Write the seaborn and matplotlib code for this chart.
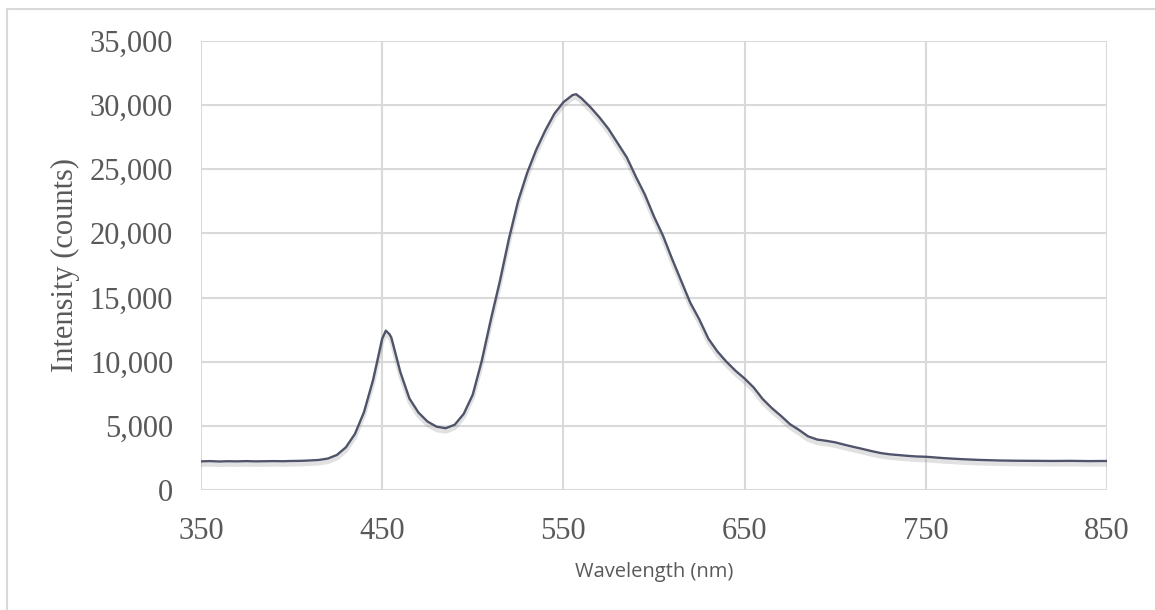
import matplotlib
matplotlib.use("Agg")
import matplotlib.pyplot as plt
import matplotlib.patheffects as pe
from matplotlib.ticker import FuncFormatter
import seaborn as sns
import pandas as pd

wavelength = [350, 355, 360, 365, 370, 375, 380, 385, 390, 395, 400, 405, 410, 415, 420,
              425, 430, 435, 440, 445, 448, 450, 452, 454, 455, 460, 465, 470, 475, 480,
              485, 490, 495, 500, 505, 510, 515, 520, 525, 530, 535, 540, 545, 550, 555,
              557, 560, 565, 570, 575, 580, 585, 590, 595, 600, 605, 610, 615, 620, 625,
              630, 635, 640, 645, 650, 655, 660, 665, 670, 675, 680, 685, 690, 695, 700,
              705, 710, 715, 720, 725, 730, 735, 740, 745, 750, 760, 770, 780, 790, 800,
              810, 820, 830, 840, 850]
intensity = [2250, 2270, 2240, 2260, 2250, 2270, 2250, 2260, 2270, 2260, 2280, 2290, 2320, 2360, 2470,
             2750, 3350, 4400, 6100, 8600, 10500, 11800, 12420, 12150, 11900, 9200, 7150, 6050, 5350, 4950,
             4830, 5100, 5950, 7450, 10100, 13300, 16300, 19600, 22500, 24700, 26500, 28000, 29300, 30200, 30750,
             30820, 30500, 29800, 29000, 28100, 27000, 25900, 24400, 23000, 21300, 19800, 18000, 16300, 14600, 13300,
             11800, 10800, 10000, 9300, 8700, 8000, 7100, 6400, 5800, 5150, 4700, 4200, 3950, 3850, 3730,
             3550, 3380, 3220, 3050, 2900, 2800, 2740, 2680, 2630, 2610, 2500, 2420, 2360, 2320, 2300,
             2290, 2280, 2290, 2270, 2280]

x_ticks = [350, 450, 550, 650, 750, 850]
y_ticks = [0, 5000, 10000, 15000, 20000, 25000, 30000, 35000]

df = pd.DataFrame({"Wavelength (nm)": wavelength, "Intensity (counts)": intensity})

sns.set_theme(style="white")
plt.rcParams['font.family'] = ['Liberation Serif', 'DejaVu Serif']

fig = plt.figure(figsize=(11.55, 6.10), dpi=100)
ax = fig.add_axes([201/1155, 1 - 490.3/610, (1107 - 201)/1155, (490.3 - 40.5)/610])

sns.lineplot(data=df, x="Wavelength (nm)", y="Intensity (counts)", ax=ax,
             color="#50546a", linewidth=1.7,
             path_effects=[pe.SimpleLineShadow(offset=(0, -2.5), shadow_color="#888888", alpha=0.25, linewidth=3),
                           pe.Normal()])

ax.set_xlim(350, 850)
ax.set_ylim(0, 35000)
ax.set_xticks(x_ticks)
ax.set_yticks(y_ticks)
ax.yaxis.set_major_formatter(FuncFormatter(lambda v, p: f"{int(v):,}"))
ax.grid(True, color="#d9d9d9", linewidth=1.5)
ax.set_axisbelow(True)
for s in ax.spines.values():
    s.set_visible(False)
ax.tick_params(axis="both", length=0, labelsize=22, labelcolor="#595959")
ax.tick_params(axis="y", pad=20)
ax.tick_params(axis="x", pad=19)

ax.set_ylabel("Intensity (counts)", fontsize=22, color="#595959", labelpad=7)
ax.set_xlabel("Wavelength (nm)", fontsize=14.5, color="#595959", family=["Open Sans", "DejaVu Sans"], labelpad=12)

# outer chart border (top and left edges visible)
fig.add_artist(plt.Line2D([7/1155, 1], [1 - 9/610, 1 - 9/610], color="#d9d9d9", linewidth=1.5, transform=fig.transFigure))
fig.add_artist(plt.Line2D([7/1155, 7/1155], [0, 1 - 9/610], color="#d9d9d9", linewidth=1.5, transform=fig.transFigure))

fig.savefig("out.png", dpi=100)
